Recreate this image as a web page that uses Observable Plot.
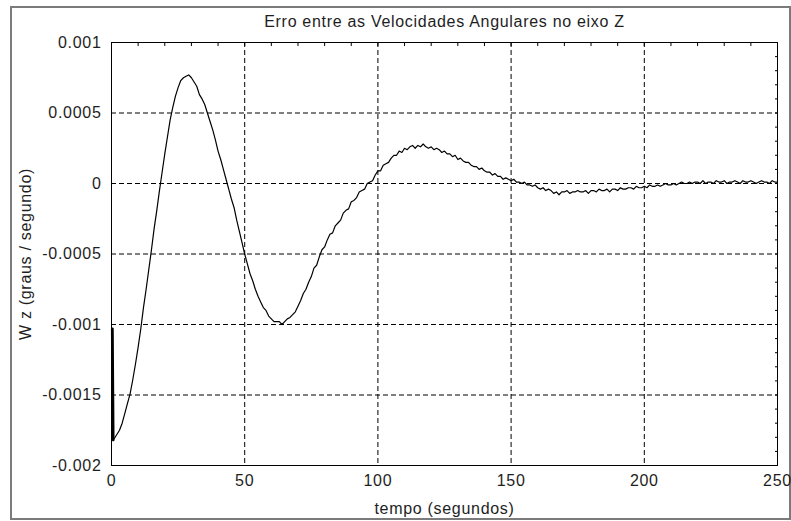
<!DOCTYPE html>
<html><head><meta charset="utf-8">
<script src="https://cdn.jsdelivr.net/npm/d3@7"></script>
<script src="https://cdn.jsdelivr.net/npm/@observablehq/plot@0.6"></script>
<style>
html,body{margin:0;padding:0;background:#fff;}
#wrap{position:relative;width:791px;height:521px;overflow:hidden;}
#border{position:absolute;left:10px;top:6px;width:781px;height:514px;box-sizing:border-box;border:2px solid #7b7b7b;}
#chart{position:absolute;left:0;top:0;}
#chart svg text{letter-spacing:0.7px;}
</style></head><body>
<div id="wrap"><div id="border"></div><div id="chart"></div></div>
<script>
const titulo = "Erro entre as Velocidades Angulares no eixo Z";
const rotuloX = "tempo (segundos)";
const rotuloY = "W z (graus / segundo)";

const xTicks = [0, 50, 100, 150, 200, 250];
const xTickLabels = ["0", "50", "100", "150", "200", "250"];
const xGrid = [50, 100, 150, 200];
const yTicks = [0.001, 0.0005, 0, -0.0005, -0.001, -0.0015, -0.002];
const yTickLabels = ["0.001", "0.0005", "0", "-0.0005", "-0.001", "-0.0015", "-0.002"];
const yGrid = [0.0005, 0, -0.0005, -0.001, -0.0015];
const xMinor = [10,20,30,40,50,60,70,80,90,100,110,120,130,140,150,160,170,180,190,200,210,220,230,240];
const yMinor = [0.0009,0.0008,0.0007,0.0006,0.0005,0.0004,0.0003,0.0002,0.0001,0,-0.0001,-0.0002,-0.0003,-0.0004,-0.0005,-0.0006,-0.0007,-0.0008,-0.0009,-0.001,-0.0011,-0.0012,-0.0013,-0.0014,-0.0015,-0.0016,-0.0017,-0.0018,-0.0019];

// tempo (s)
const tempo = [0,0.3,
1,2,3,4,5,6,7,8,9,10,11,12,13,14,15,16,17,18,19,20,21,22,23,24,25,26,27,28,29,30,
31,32,33,34,35,36,37,38,39,40,41,42,43,44,45,46,47,48,49,50,51,52,53,54,55,56,57,58,59,60,
61,62,63,64,65,66,67,68,69,70,71,72,73,74,75,76,77,78,79,80,81,82,83,84,85,86,87,88,89,90,
91,92,93,94,95,96,97,98,99,100,101,102,103,104,105,106,107,108,109,110,111,112,113,114,115,116,117,118,119,120,
121,122,123,124,125,126,127,128,129,130,131,132,133,134,135,136,137,138,139,140,141,142,143,144,145,146,147,148,149,150,
151,152,153,154,155,156,157,158,159,160,161,162,163,164,165,166,167,168,169,170,171,172,173,174,175,176,177,178,179,180,
181,182,183,184,185,186,187,188,189,190,191,192,193,194,195,196,197,198,199,200,201,202,203,204,205,206,207,208,209,210,
211,212,213,214,215,216,217,218,219,220,221,222,223,224,225,226,227,228,229,230,231,232,233,234,235,236,237,238,239,240,
241,242,243,244,245,246,247,248,249,250];

// W z (graus / segundo)
const wz = [-103e-5,-182e-5,
-181e-5,-178e-5,-175e-5,-170e-5,-163e-5,-156e-5,-149e-5,-139e-5,-128e-5,-116e-5,
-103e-5,-88e-5,-75e-5,-61e-5,-47e-5,-32e-5,-19e-5,-5e-5,8e-5,21e-5,
33e-5,45e-5,54e-5,62e-5,68e-5,73e-5,75e-5,76e-5,77e-5,75e-5,
72e-5,69e-5,63e-5,60e-5,56e-5,50e-5,44e-5,38e-5,31e-5,23e-5,
17e-5,10e-5,3e-5,-4e-5,-11e-5,-17e-5,-26e-5,-34e-5,-42e-5,-50e-5,
-57e-5,-64e-5,-69e-5,-75e-5,-80e-5,-84e-5,-88e-5,-90e-5,-94e-5,-96e-5,
-98e-5,-98e-5,-98e-5,-100e-5,-98e-5,-96e-5,-95e-5,-93e-5,-91e-5,-87e-5,
-83e-5,-78e-5,-75e-5,-70e-5,-66e-5,-60e-5,-58e-5,-52e-5,-47e-5,-45e-5,
-40e-5,-36e-5,-35e-5,-30e-5,-28e-5,-26e-5,-21e-5,-19e-5,-18e-5,-13e-5,
-12e-5,-10e-5,-6e-5,-5e-5,-4e-5,0,1e-5,2e-5,6e-5,9e-5,
9e-5,13e-5,14e-5,15e-5,18e-5,20e-5,20e-5,23e-5,22e-5,25e-5,
24e-5,26e-5,27e-5,25e-5,27e-5,26e-5,28e-5,26e-5,25e-5,26e-5,
24e-5,25e-5,24e-5,22e-5,23e-5,21e-5,21e-5,19e-5,20e-5,17e-5,
18e-5,16e-5,15e-5,15e-5,13e-5,12e-5,12e-5,10e-5,11e-5,9e-5,
8e-5,8e-5,6e-5,7e-5,5e-5,5e-5,3e-5,4e-5,3e-5,2e-5,
3e-5,1e-5,1e-5,0,1e-5,-1e-5,-1e-5,-2e-5,-1e-5,-3e-5,
-4e-5,-3e-5,-5e-5,-4e-5,-5e-5,-7e-5,-6e-5,-8e-5,-6e-5,-6e-5,
-5e-5,-7e-5,-6e-5,-6e-5,-5e-5,-6e-5,-6e-5,-5e-5,-7e-5,-5e-5,
-5e-5,-6e-5,-4e-5,-5e-5,-5e-5,-4e-5,-6e-5,-4e-5,-4e-5,-5e-5,
-3e-5,-4e-5,-4e-5,-3e-5,-3e-5,-4e-5,-2e-5,-3e-5,-3e-5,-2e-5,
-3e-5,-1e-5,-2e-5,-2e-5,-1e-5,-2e-5,-1e-5,0,-1e-5,-1e-5,
0,-1e-5,0,1e-5,0,0,1e-5,0,1e-5,1e-5,
0,2e-5,0,1e-5,1e-5,0,2e-5,1e-5,1e-5,2e-5,
0,1e-5,1e-5,2e-5,1e-5,0,2e-5,1e-5,1e-5,2e-5,
1e-5,0,1e-5,2e-5,1e-5,1e-5,0,2e-5,1e-5,1e-5];

const serie = tempo.map((t, i) => ({t, v: wz[i]}));

const fonte = "'Liberation Sans', Arial, Helvetica, sans-serif";
const cor = "#1e1e1e";

const plot = Plot.plot({
  width: 791, height: 521,
  marginLeft: 111, marginRight: 14, marginTop: 42, marginBottom: 56,
  style: {fontFamily: fonte, fontSize: "16px", color: cor, background: "transparent", overflow: "visible"},
  x: {domain: [0, 250]},
  y: {domain: [-0.002, 0.001]},
  marks: [
    Plot.gridX({ticks: xGrid, stroke: "#000", strokeOpacity: 1, strokeWidth: 1, strokeDasharray: "5,3"}),
    Plot.gridY({ticks: yGrid, stroke: "#000", strokeOpacity: 1, strokeWidth: 1, strokeDasharray: "5,3"}),
    Plot.axisX({anchor: "bottom", ticks: xTicks, tickSize: 0, tickPadding: 9, fontSize: 16,
      tickFormat: d => xTickLabels[xTicks.indexOf(d)], label: null}),
    Plot.axisY({anchor: "left", ticks: yTicks, tickSize: 0, tickPadding: 10, fontSize: 16,
      tickFormat: d => yTickLabels[yTicks.indexOf(d)], label: null}),
    Plot.axisX({anchor: "top", ticks: xMinor, tickSize: -3, stroke: "#000", tickFormat: () => "", label: null}),
    Plot.axisY({anchor: "right", ticks: yMinor, tickSize: -3, stroke: "#000", tickFormat: () => "", label: null}),
    Plot.line(serie, {x: "t", y: "v", stroke: "#000", strokeWidth: 1.2}),
    Plot.line(serie.slice(0, 2), {x: "t", y: "v", stroke: "#000", strokeWidth: 2.5, dx: 1}),
    Plot.frame({stroke: "#000", strokeWidth: 1}),
    Plot.text([titulo], {frameAnchor: "top", dy: -21, lineAnchor: "middle", textAnchor: "middle", text: d => d, fontSize: 16, fill: cor}),
    Plot.text([rotuloX], {frameAnchor: "bottom", dy: 43, lineAnchor: "middle", textAnchor: "middle", text: d => d, fontSize: 16, fill: cor}),
    Plot.text([rotuloY], {frameAnchor: "left", dx: -86, rotate: -90, lineAnchor: "middle", textAnchor: "middle", text: d => d, fontSize: 16, fill: cor})
  ]
});
document.getElementById("chart").appendChild(plot);
</script>
</body></html>
